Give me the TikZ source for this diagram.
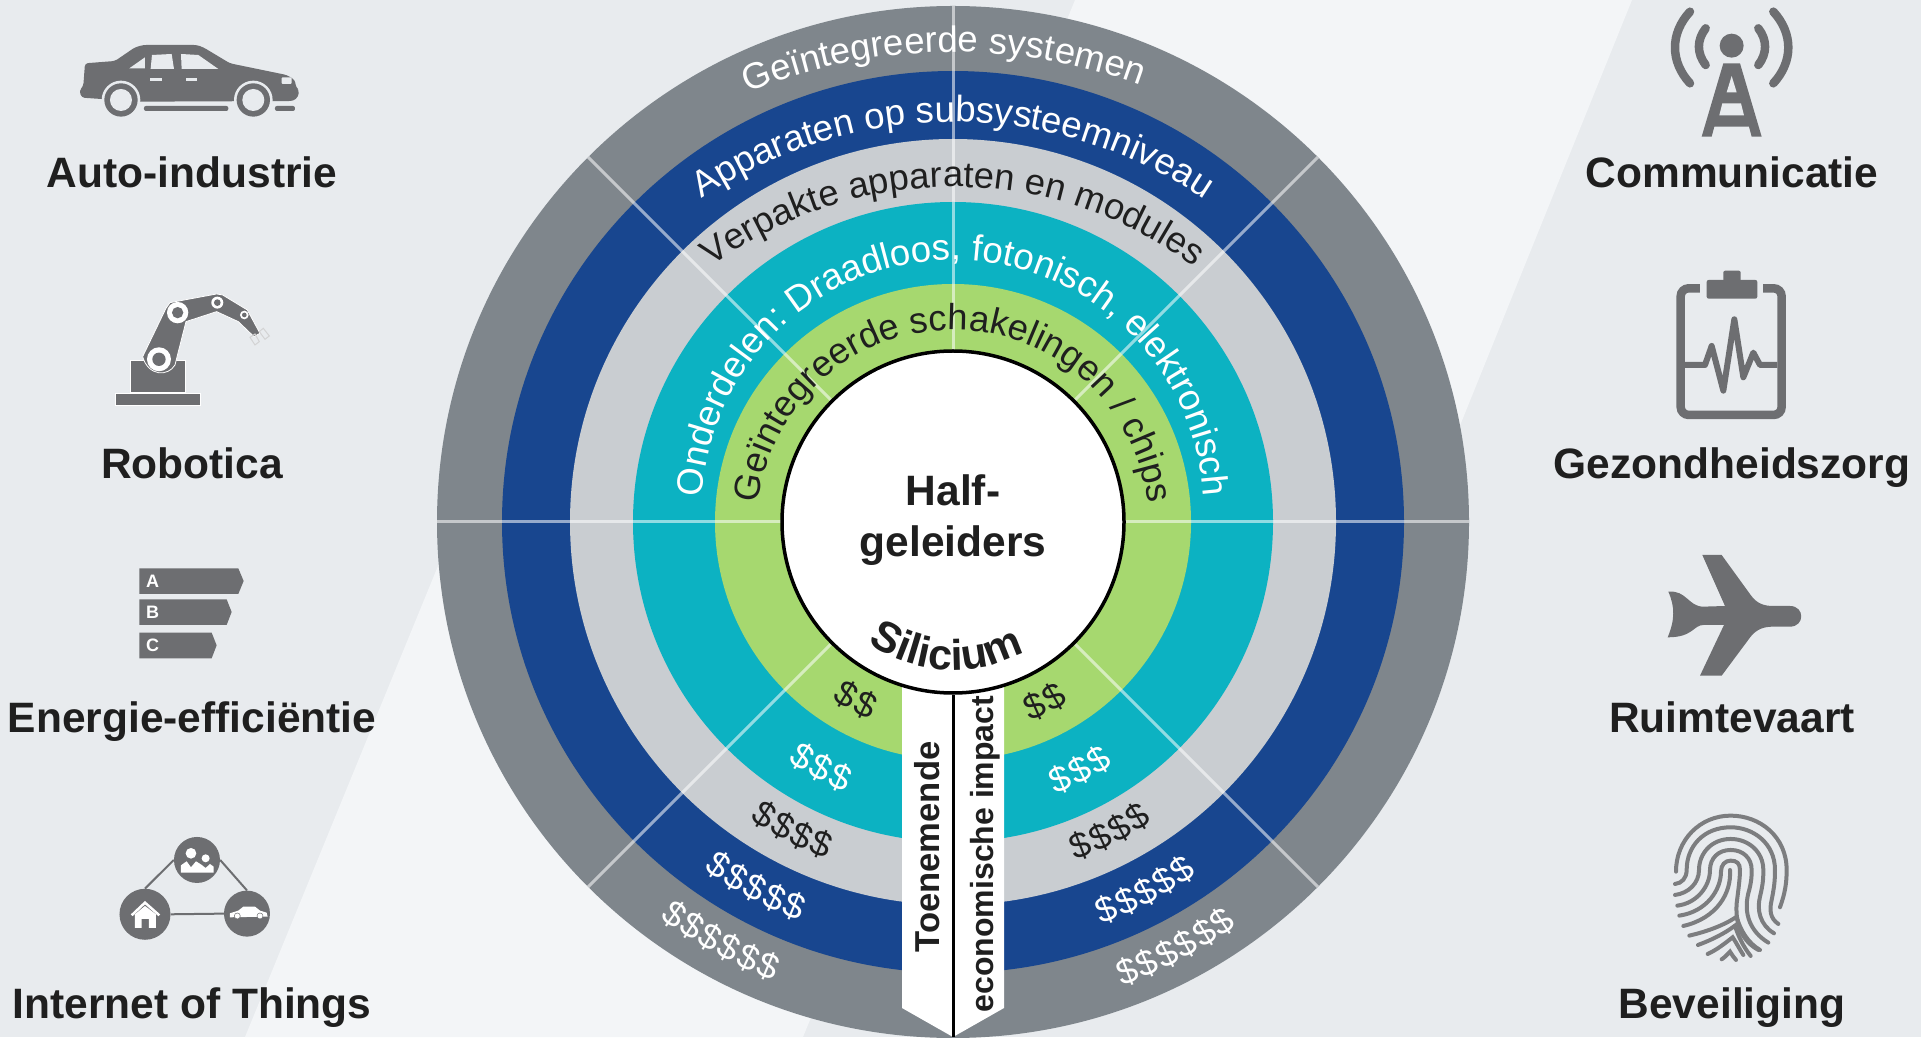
\documentclass[tikz,border=0pt]{standalone}
\usepackage{fontspec}
\setmainfont{Liberation Sans}
\usetikzlibrary{decorations.text}
\definecolor{bgdark}{HTML}{E8EBEE}
\definecolor{bglight}{HTML}{F3F5F7}
\definecolor{ringslate}{HTML}{7F868C}
\definecolor{ringnavy}{HTML}{18468F}
\definecolor{ringgray}{HTML}{C9CDD1}
\definecolor{ringteal}{HTML}{0CB2C2}
\definecolor{ringgreen}{HTML}{A6D86F}
\definecolor{icongray}{HTML}{6D6E71}
\definecolor{labelblack}{HTML}{1F1F1F}
\newcommand{\ringwhite}{\color{white}\fontsize{36.6}{40}\selectfont}
\newcommand{\ringblack}{\color{labelblack}\fontsize{36.3}{40}\selectfont}
\tikzset{
	sectorlabel/.style={font=\fontsize{42.5}{46}\selectfont\bfseries,text=labelblack,anchor=base},
	bannerlabel/.style={text=labelblack,anchor=base,rotate=90,inner sep=0pt},
	arctext/.style={decorate,decoration={text along path,text align=center,text={#1}}},
	dollarsign/.style={font=\fontsize{36}{40}\selectfont,inner sep=0pt},
	spoke/.style={white,opacity=.55,line width=3pt},
	iconfill/.style={fill=icongray},
	iconhole/.style={fill=bgdark},
	iotdisc/.style={circle,fill=icongray,inner sep=0pt},
	iotlink/.style={icongray,line width=2pt},
	ridge/.style={draw=icongray!90!white,line width=4pt,line cap=round},
	wave/.style={icongray,line width=8.5pt,line cap=round},
	pulse/.style={icongray,line width=6pt,line join=round},
	gradebar/.style={font=\fontsize{18}{20}\selectfont\bfseries,text=white,anchor=west,inner sep=0pt}
}
\begin{document}
\begin{tikzpicture}[x=1pt,y=1pt]
	\useasboundingbox (0,0) rectangle (1921,1037);
	\fill[bgdark] (0,0) rectangle (1921,1037);
	\fill[bglight] (1075,1037) -- (1632,1037) -- (1421,515) -- (862,515) -- cycle;
	\fill[bglight] (245,0) -- (803,0) -- (1014,515) -- (456,515) -- cycle;

	\coordinate (hub) at (953,515);
	\foreach \r/\c in {516/ringslate,451/ringnavy,383/ringgray,320/ringteal,238/ringgreen}
		\fill[\c] (hub) circle (\r);
	\foreach \a in {0,45,90,135,180,225,315}
		\draw[spoke] (hub) ++(\a:171) -- ++(\a:345);

	\path[arctext={|\ringwhite|Geïntegreerde systemen}] (953,444) ++(121:541) arc[start angle=121,end angle=61,radius=541];
	\path[arctext={|\ringwhite|Apparaten op subsysteemniveau}] (953,468) ++(140:447) arc[start angle=140,end angle=40,radius=447];
	\path[arctext={|\ringblack|Verpakte apparaten en modules}] (953,447) ++(150:403) arc[start angle=150,end angle=30,radius=403];
	\path[arctext={|\ringwhite|Onderdelen: Draadloos, fotonisch, elektronisch}] (953,526) ++(190:251) arc[start angle=190,end angle=-10,radius=251];
	\path[arctext={|\ringblack|Geïntegreerde schakelingen / chips}] (953,511) ++(190:196) arc[start angle=190,end angle=-10,radius=196];

	\foreach \r/\a/\n/\c in {203/241.4/2/labelblack,279/241.8/3/white,348/242.5/4/labelblack,416/241.6/5/white,481/241/6/white,
			202/297/2/labelblack,279/297/3/white,348/296.8/4/labelblack,417/297.5/5/white,482/297.6/6/white}
		\foreach \i in {1,...,\n} {
			\pgfmathsetmacro{\t}{\a+(\i-(\n+1)/2)*21.5/\r*57.3}
			\node[dollarsign,text=\c,rotate=\t+90] (dollar\r\a\i) at ([shift={(\t:\r)}]hub) {\$};
		}

	\fill[white] (902,600) -- (1004,600) -- (1004,29) -- (953,0) -- (902,29) -- cycle;
	\node[circle,draw=black,line width=3.5pt,fill=white,minimum size=342pt,inner sep=0pt] (core) at (hub) {};
	\coordinate (tip) at (953,0);
	\draw[black,line width=3pt] (core.south) -- (tip);
	\node[bannerlabel,font=\fontsize{34.6}{36}\selectfont\bfseries] (rising) at (939,190) {Toenemende};
	\node[bannerlabel,font=\fontsize{32}{34}\selectfont\bfseries] (impact) at (993,183) {economische impact};
	\node[font=\fontsize{42.5}{51}\selectfont\bfseries,text=labelblack,align=center] (semi) at (953,517) {Half-\\geleiders};
	\path[arctext={|\color{labelblack}\fontsize{43}{45}\selectfont\bfseries|Silicium}] (hub) ++(222:148) arc[start angle=222,end angle=312,radius=148];

	\node[sectorlabel] (auto) at (192,849) {Auto-industrie};
	\node[sectorlabel] (robot) at (192,558) {Robotica};
	\node[sectorlabel] (energy) at (192,305) {Energie-efficiëntie};
	\node[sectorlabel] (iot) at (192,19) {Internet of Things};
	\node[sectorlabel] (comm) at (1732,849) {Communicatie};
	\node[sectorlabel] (health) at (1732,558) {Gezondheidszorg};
	\node[sectorlabel] (space) at (1732,305) {Ruimtevaart};
	\node[sectorlabel] (secure) at (1732,19) {Beveiliging};

	\begin{scope}[shift={(0,1037)},x=.3333pt,y=-.3333pt]
		\fill[iconfill,rounded corners=3pt] (238,272) -- (250,258) -- (255,190) -- (345,183) -- (405,142) -- (430,135) -- (590,135) -- (610,142) -- (690,190) -- (860,225) -- (885,240) -- (888,262) -- (897,270) -- (895,290) -- (880,303) -- (422,305) -- (245,293) -- cycle;
		\foreach \x in {363,760} {
			\fill[iconhole] (\x,300) circle (58);
			\fill[iconfill] (\x,300) circle (50);
			\fill[iconhole] (\x,300) circle (33);
		}
		\fill[iconhole] (388,205) -- (435,172) -- (435,205) -- cycle;
		\fill[iconhole] (452,207) -- (456,165) -- (515,162) -- (522,207) -- cycle;
		\fill[iconhole] (545,207) -- (543,162) -- (595,165) -- (655,207) -- cycle;
		\fill[iconhole] (450,233) rectangle (485,243);
		\fill[iconhole] (558,233) rectangle (592,243);
		\fill[iconhole,rounded corners=1pt] (845,232) rectangle (875,252);
		\fill[iconfill,rounded corners=2pt] (432,318) rectangle (685,333);
		\fill[iconfill,rounded corners=2pt] (825,318) rectangle (885,333);

		\fill[iconfill,draw=white,line width=.8pt] (345,1180) rectangle (602,1216);
		\fill[iconfill,draw=white,line width=.8pt] (390,1082) rectangle (556,1176);
		\fill[iconfill,draw=white,line width=.8pt] (428,1070) -- (498,925) -- (510,908) -- (650,882) -- (668,885) -- (742,930) -- (780,1000) -- (762,1010) -- (715,965) -- (650,935) -- (558,965) -- (525,1095) .. controls (505,1130) and (445,1130) .. (428,1070) -- cycle;
		\fill[white] (477,1078) circle (36);
		\fill[iconfill] (477,1078) circle (20);
		\fill[white] (533,938) circle (32);
		\fill[iconfill] (533,938) circle (17);
		\fill[white] (652,908) circle (18);
		\fill[iconfill] (652,908) circle (10);
		\fill[white] (733,945) circle (13);
		\fill[iconfill] (733,945) circle (7);
		\draw[white!70!icongray,line width=1pt] (750,1012) -- (765,1035) -- (778,1025) -- (765,1002) -- cycle;
		\draw[white!70!icongray,line width=1pt] (778,995) -- (795,1018) -- (808,1008) -- (790,985) -- cycle;
	\end{scope}

	\begin{scope}[shift={(0,517)},x=.3333pt,y=-.3333pt]
		\fill[iconfill] (418,145) -- (715,145) -- (731,183) -- (715,222) -- (418,222) -- cycle;
		\fill[iconfill] (418,238) -- (680,238) -- (695,276) -- (680,315) -- (418,315) -- cycle;
		\fill[iconfill] (418,338) -- (635,338) -- (650,376) -- (635,415) -- (418,415) -- cycle;
		\node[gradebar] (gradea) at (438,184) {A};
		\node[gradebar] (gradeb) at (438,277) {B};
		\node[gradebar] (gradec) at (438,377) {C};

		\node[iotdisc,minimum size=46pt] (people) at (591,1020) {};
		\node[iotdisc,minimum size=51pt] (home) at (435,1183) {};
		\node[iotdisc,minimum size=46pt] (vehicle) at (741,1181) {};
		\draw[iotlink] (people.west) -- (home.north);
		\draw[iotlink] (people.east) -- (vehicle.north);
		\draw[iotlink] (home.east) -- (vehicle.west);
		\fill[white] (573,1000) circle (16);
		\fill[white] (617,1015) circle (12);
		\fill[white] (543,1058) -- (543,1036) -- (560,1024) -- (573,1042) -- (588,1024) -- (604,1034) -- (617,1044) -- (630,1032) -- (641,1040) -- (641,1058) -- cycle;
		\draw[white,line width=2.5pt] (395,1186) -- (435,1148) -- (478,1186);
		\fill[white] (405,1183) -- (435,1158) -- (468,1183) -- (468,1224) -- (447,1224) -- (447,1197) -- (425,1197) -- (425,1224) -- (405,1224) -- cycle;
		\fill[white] (690,1180) -- (715,1172) -- (730,1160) -- (765,1160) -- (780,1172) -- (800,1178) -- (803,1190) -- (690,1192) -- cycle;
		\fill[white,draw=icongray,line width=.5pt] (712,1188) circle (9);
		\fill[white,draw=icongray,line width=.5pt] (780,1188) circle (9);
	\end{scope}

	\begin{scope}[shift={(1540,1037)},x=.3333pt,y=-.3333pt]
		\fill[iconfill] (575,137) circle (36);
		\draw[wave] (497,85) .. controls (470,120) and (470,160) .. (497,195);
		\draw[wave] (655,85) .. controls (682,120) and (682,160) .. (655,195);
		\draw[wave] (450,35) .. controls (390,100) and (390,185) .. (450,250);
		\draw[wave] (700,35) .. controls (760,100) and (760,185) .. (700,250);
		\fill[iconfill] (550,190) -- (600,190) -- (665,410) -- (635,410) -- (627,380) -- (523,380) -- (515,410) -- (485,410) -- cycle;
		\fill[iconhole] (575,228) -- (590,277) -- (560,277) -- cycle;
		\fill[iconhole] (547,310) -- (603,310) -- (612,346) -- (538,346) -- cycle;

		\draw[icongray,line width=8.5pt,rounded corners=8pt] (422,865) rectangle (725,1245);
		\fill[iconhole] (480,845) rectangle (668,890);
		\fill[iconfill,rounded corners=2pt] (500,840) rectangle (652,896);
		\fill[iconfill,rounded corners=2pt] (550,812) rectangle (602,845);
		\draw[pulse] (435,1095) -- (495,1095) -- (515,1038) -- (550,1172) -- (583,958) -- (610,1132) -- (640,1058) -- (660,1095) -- (712,1095);
	\end{scope}

	\begin{scope}[shift={(1540,517)},x=.3333pt,y=-.3333pt]
		\fill[iconfill] (487,105) -- (545,105) -- (632,225) .. controls (650,250) and (670,258) .. (700,258) -- (750,258) .. controls (795,258) and (795,320) .. (750,320) -- (700,320) .. controls (670,320) and (650,328) .. (632,350) -- (545,467) -- (480,467) -- (552,315) -- (490,315) .. controls (460,315) and (460,352) .. (383,352) .. controls (405,300) and (405,260) .. (385,215) .. controls (440,210) and (445,260) .. (490,260) -- (555,258) -- cycle;

		\draw[ridge] (720,1162) .. controls (735,1120) and (740,1090) .. (740,1050) .. controls (740,950) and (660,887) .. (572,887) .. controls (480,887) and (408,960) .. (408,1055);
		\draw[ridge] (715,1212) .. controls (690,1195) and (688,1170) .. (695,1140) .. controls (703,1100) and (705,1080) .. (705,1050) .. controls (705,970) and (640,922) .. (572,922) .. controls (490,922) and (440,980) .. (440,1050) .. controls (440,1075) and (425,1090) .. (405,1092);
		\draw[ridge] (702,1240) .. controls (660,1215) and (650,1170) .. (660,1130) .. controls (670,1090) and (670,1070) .. (670,1050) .. controls (670,995) and (625,957) .. (572,957) .. controls (515,957) and (477,1000) .. (477,1050) .. controls (477,1090) and (445,1120) .. (405,1125);
		\draw[ridge] (685,1268) .. controls (630,1235) and (610,1180) .. (625,1120) .. controls (635,1085) and (635,1065) .. (635,1050) .. controls (635,1015) and (610,990) .. (572,990) .. controls (535,990) and (510,1015) .. (510,1050) .. controls (510,1100) and (470,1150) .. (412,1157);
		\draw[ridge] (655,1290) .. controls (610,1265) and (585,1220) .. (590,1150) .. controls (595,1110) and (600,1075) .. (600,1050) .. controls (600,1030) and (590,1022) .. (572,1022) .. controls (555,1022) and (543,1035) .. (543,1055) .. controls (543,1110) and (500,1175) .. (418,1187);
		\draw[ridge] (570,1050) .. controls (575,1120) and (530,1195) .. (430,1218);
		\draw[ridge] (448,1247) .. controls (500,1235) and (555,1215) .. (590,1190) .. controls (600,1230) and (625,1270) .. (660,1290);
		\draw[ridge] (474,1275) .. controls (515,1260) and (555,1240) .. (585,1217) .. controls (595,1250) and (610,1280) .. (632,1308);
		\draw[ridge] (503,1302) .. controls (530,1290) and (555,1270) .. (578,1252) .. controls (590,1270) and (600,1290) .. (610,1305);
		\draw[ridge] (545,1318) .. controls (555,1312) and (565,1300) .. (570,1295) .. controls (575,1305) and (582,1312) .. (588,1320);
	\end{scope}
\end{tikzpicture}
\end{document}
